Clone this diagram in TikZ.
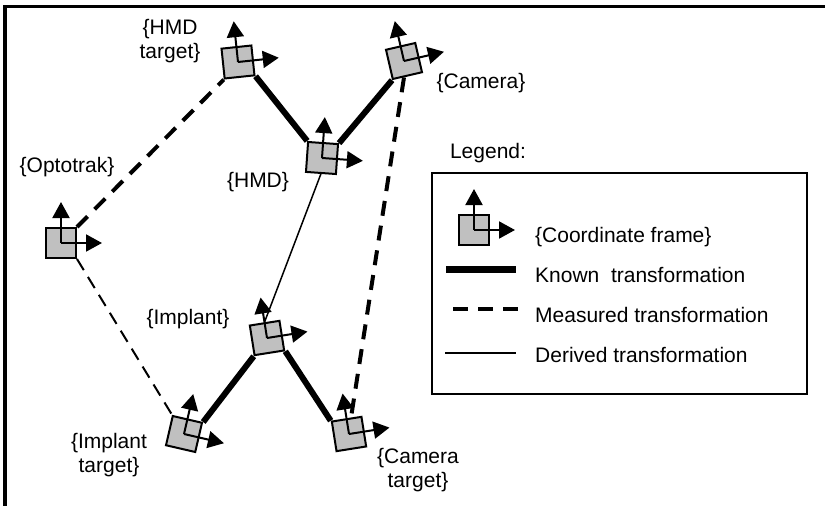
\documentclass[tikz,border=0pt]{standalone}
\usepackage{fontspec}
\setmainfont{Liberation Sans}
\usetikzlibrary{arrows.meta}
\definecolor{framegray}{RGB}{192,192,192}
\pgfdeclarelayer{bg}
\pgfsetlayers{bg,main}
\tikzset{
  cframe/.style={draw, line width=2pt, fill=framegray, minimum size=30pt, inner sep=0pt},
  axis/.style={line width=2pt, -{Triangle[length=16pt,width=17pt]}},
  known/.style={line width=6pt},
  measured/.style={line width=4pt, dash pattern=on 15pt off 10pt},
  measuredthin/.style={line width=2pt, dash pattern=on 13pt off 8pt},
  derived/.style={line width=1.5pt},
  lbl/.style={inner sep=0pt, font=\fontsize{21}{24}\selectfont, align=center},
  legbox/.style={draw, line width=2.5pt, minimum width=375pt, minimum height=221pt, inner sep=0pt},
}
\begin{document}
\begin{tikzpicture}[x=1pt,y=-1pt]
\useasboundingbox (0,0) rectangle (825,506);
\draw[line width=3.5pt] (5,530) -- (5,6.5) -- (850,6.5);

% legend box
\node[legbox] (legendbox) at (619.5,283.5) {};

% coordinate frames
\node[cframe] (opt) at (61,243) {};
\node[cframe, rotate=6] (hmdt) at (238,62) {};
\node[cframe, rotate=13] (cam) at (404,61) {};
\node[cframe, rotate=-4] (hmd) at (322,158) {};
\node[cframe, rotate=9] (imp) at (267,338) {};
\node[cframe, rotate=-13] (impt) at (184,434) {};
\node[cframe, rotate=9] (camt) at (349,434) {};
\node[cframe] (leg) at (474,230) {};

\foreach \n/\r in {opt/0, hmdt/6, cam/13, hmd/-4, imp/9, impt/-13, camt/9, leg/0} {
  \draw[axis] (\n.center) -- ++(90+\r:41pt);
  \draw[axis] (\n.center) -- ++(\r:41pt);
}

% connectors
\begin{pgfonlayer}{bg}
\draw[measured] (opt.north east) -- (hmdt.south west);
\draw[measuredthin] (opt.south east) -- (impt.north west);
\draw[known] (hmdt.south east) -- (hmd.north west);
\draw[known] (cam.south west) -- (hmd.north east);
\draw[derived] (hmd.south) -- (imp.north);
\draw[measured] (cam.-103) -- (camt.74);
\draw[known] (imp.south west) -- (impt.north east);
\draw[known] (imp.south east) -- (camt.north west);
\end{pgfonlayer}

% labels
\node[lbl] (lhmdt) at (170,41) {\{HMD\\target\}};
\node[lbl] (lopt) at (67,167) {\{Optotrak\}};
\node[lbl] (lhmd) at (258,182) {\{HMD\}};
\node[lbl] (lcam) at (481,83) {\{Camera\}};
\node[lbl] (limp) at (188,319) {\{Implant\}};
\node[lbl] (limpt) at (109,455) {\{Implant\\target\}};
\node[lbl] (lcamt) at (418,470) {\{Camera\\target\}};
\node[lbl] (llegend) at (488,153) {Legend:};

% legend entries
\node[lbl, anchor=west] (tcf) at (535,237) {\{Coordinate frame\}};
\node[lbl, anchor=west] (tkn) at (535,275) {Known\ \ transformation};
\node[lbl, anchor=west] (tms) at (535,315) {Measured transformation};
\node[lbl, anchor=west] (tdr) at (535,355) {Derived transformation};

\coordinate (k1) at (446,269); \coordinate (k2) at (516,269);
\coordinate (m1) at (453,309); \coordinate (m2) at (518,309);
\coordinate (d1) at (445,353); \coordinate (d2) at (516,353);
\draw[known, line width=7pt] (k1) -- (k2);
\draw[measured] (m1) -- (m2);
\draw[derived] (d1) -- (d2);
\end{tikzpicture}
\end{document}
